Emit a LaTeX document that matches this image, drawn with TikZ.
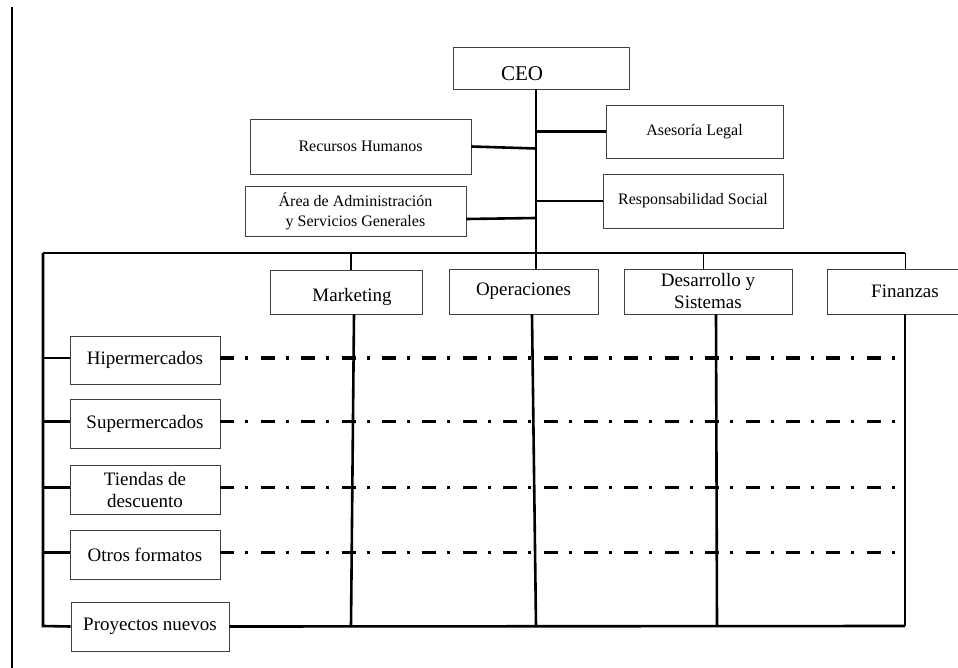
\documentclass[tikz,border=0pt]{standalone}
\usepackage{fontspec}
\setmainfont{Liberation Serif}
\begin{document}
\begin{tikzpicture}[x=1pt,y=-1pt,
  box/.style={draw=black!75, line width=0.9pt, inner sep=0pt, align=center},
  staff/.style={box, font=\fontsize{16}{20}\selectfont},
  unit/.style={box, font=\fontsize{19}{22}\selectfont},
  thickline/.style={line width=2.6pt},
  thinline/.style={line width=1pt},
  matrixline/.style={line width=3.6pt, dash pattern=on 14pt off 11pt on 3pt off 12.4pt}
]
\useasboundingbox (0,0) rectangle (958,668);

% margin rule on the left
\coordinate (m1) at (12,7);
\coordinate (m2) at (12,668);
\draw[line width=1.2pt] (m1) -- (m2);

% top management and staff units
\node[box, minimum width=176, minimum height=42, font=\fontsize{21}{24}\selectfont]
  (ceo) at (541,68) {\raisebox{-6pt}[\height][\depth]{CEO}\hspace*{38pt}};
\node[staff, minimum width=177, minimum height=53] (ases) at (694.5,131.5) {Asesoría Legal};
\node[staff, minimum width=180, minimum height=54] (resp) at (693,201) {Responsabilidad Social};
\node[staff, minimum width=221, minimum height=55] (rrhh) at (360.5,146.5) {Recursos Humanos};
\node[staff, minimum width=221, minimum height=50] (area) at (355.5,211)
  {Área de Administración\\ y Servicios Generales};

% functional departments
\node[unit, minimum width=152, minimum height=44] (mkt) at (346,292)
  {\hspace*{12pt}\raisebox{-5pt}[\height][\depth]{Marketing}};
\node[unit, minimum width=149, minimum height=45] (ops) at (523.5,291.5) {Operaciones};
\node[unit, minimum width=168, minimum height=45] (desa) at (708,291.5) {Desarrollo y\\Sistemas};
\node[unit, minimum width=156, minimum height=45] (fin) at (905,291.5) {Finanzas};

% business formats
\node[unit, minimum width=150, minimum height=48] (hip) at (145,360) {Hipermercados};
\node[unit, minimum width=150, minimum height=49] (sup) at (145,423.5) {Supermercados};
\node[unit, minimum width=150, minimum height=49] (tie) at (145,489.5) {Tiendas de\\descuento};
\node[unit, minimum width=150, minimum height=49] (otr) at (145,554.5) {Otros formatos};
\node[unit, minimum width=158, minimum height=49] (proy) at (150,626.5) {Proyectos nuevos};

% frame of the structure
\coordinate (tx) at (536,0);
\coordinate (busL) at (43,253);
\coordinate (busR) at (905,253);
\coordinate (busM) at (351,253);
\coordinate (busD) at (703,253);
\coordinate (botL) at (43,626);
\coordinate (botR) at (905,626);
\coordinate (mkB) at (351,626);
\coordinate (opB) at (536,626);
\coordinate (deB) at (717,626);
\coordinate (dashEnd) at (895,0);

% trunk from the CEO down to Operaciones
\draw[thickline] (ceo.south -| tx) -- (ops.north -| tx);
\draw[thickline] (ases.west) -- (ases.west -| tx);
\draw[thickline] (resp.west) -- (resp.west -| tx);
\draw[thickline] (rrhh.east) -- ([yshift=-2pt]rrhh.east -| tx);
\draw[thickline] ([yshift=-8pt]area.east) -- ([yshift=-7pt]area.east -| tx);

% horizontal bus and outer frame
\draw[thickline] (busL) -- (busR);
\draw[thickline] (busL) -- (botL) -- (proy.west);
\draw[thickline] (proy.east) -- (botR);
\draw[thinline] (busR) -- (busR |- fin.north);
\draw[thickline] (fin.south -| busR) -- (botR);

% department drops
\draw[thickline] (busM) -- (busM |- mkt.north);
\draw[thickline] ([xshift=8pt]mkt.south) -- (mkB);
\draw[thickline] ([xshift=8.5pt]ops.south) -- (opB);
\draw[thinline] (busD) -- (busD |- desa.north);
\draw[thickline] ([xshift=8pt]desa.south) -- (deB);

% format branches
\foreach \n in {hip,sup,tie,otr}{
  \draw[thickline] ([yshift=2pt]busL |- \n.west) -- ([yshift=2pt]\n.west);
  \draw[matrixline] ([yshift=2pt]\n.east) -- ([yshift=2pt]\n.east -| dashEnd);
}
\end{tikzpicture}
\end{document}
